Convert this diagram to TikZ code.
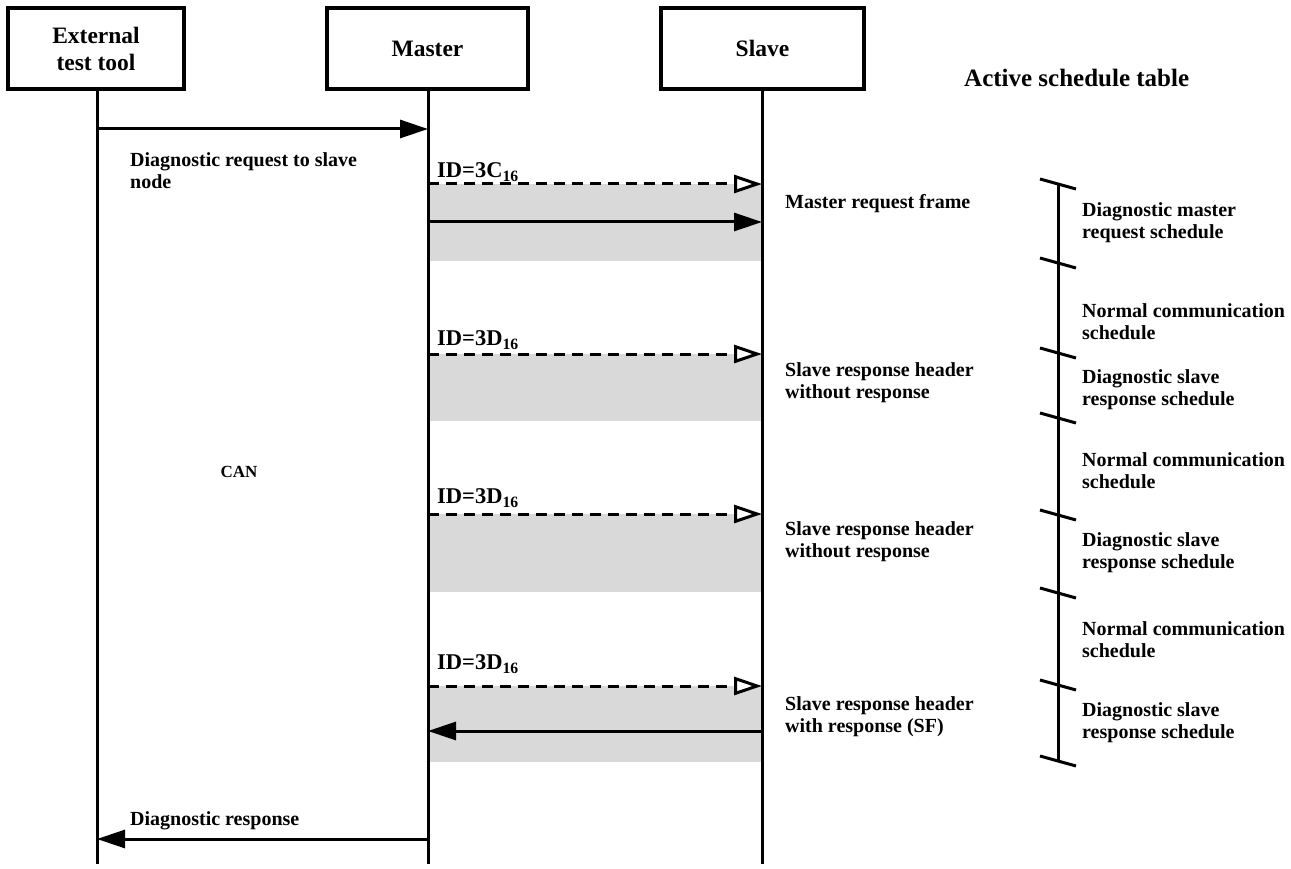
\documentclass[tikz,border=0pt]{standalone}
\usepackage{fontspec}
\setmainfont{Liberation Serif}
\usetikzlibrary{arrows.meta}
\definecolor{bandgray}{HTML}{D9D9D9}
\begin{document}
\begin{tikzpicture}[x=1pt,y=-1pt,
  txt/.style={font=\bfseries\fontsize{20}{22}\selectfont, inner sep=0pt, align=left},
  idlbl/.style={font=\bfseries\fontsize{22.5}{24}\selectfont, inner sep=0pt, anchor=west},
  actor/.style={draw, line width=3.2pt, minimum height=81pt, inner sep=0pt,
    font=\bfseries\fontsize{23.5}{27}\selectfont, align=center},
  life/.style={line width=3pt},
  msg/.style={line width=3pt, -{Triangle[length=28pt,width=18pt]}},
  hdr/.style={line width=3pt, dash pattern=on 11pt off 7pt,
    -{Triangle[open,length=28pt,width=18pt,fill=white,line width=3pt]}},
  tick/.style={line width=3pt}]
\useasboundingbox (0,0) rectangle (1291,869);

% lifeline boxes
\node[actor, minimum width=176pt] (ext) at (96,48.5) {External\\test tool};
\node[actor, minimum width=201pt] (mst) at (427.5,48.5) {Master};
\node[actor, minimum width=203pt] (slv) at (762.5,48.5) {Slave};

% shaded frame slots
\fill[bandgray] (428,184) rectangle (762,261);
\fill[bandgray] (428,354) rectangle (762,421);
\fill[bandgray] (428,514) rectangle (762,592);
\fill[bandgray] (428,686) rectangle (762,762);

% lifelines
\coordinate (extEnd) at (97,864);
\coordinate (mstEnd) at (428,864);
\coordinate (slvEnd) at (762,864);
\draw[life] (ext.south -| extEnd) -- (extEnd);
\draw[life] (mst.south -| mstEnd) -- (mstEnd);
\draw[life] (slv.south -| slvEnd) -- (slvEnd);

% message anchor points
\foreach \y in {129,839}{
  \coordinate (e\y) at (97,\y);
  \coordinate (m\y) at (428,\y);}
\foreach \y in {184,222,354,514,686,731}{
  \coordinate (m\y) at (428,\y);
  \coordinate (s\y) at (762,\y);}

% CAN diagnostic request / response
\draw[msg] (e129) -- (m129);
\node[txt, anchor=west] (lreq) at (130,171) {Diagnostic request to slave\\node};
\draw[msg] (m839) -- (e839);
\node[txt, anchor=west] (lrsp) at (130,821) {Diagnostic response};
\node[txt, font=\bfseries\fontsize{17}{20}\selectfont] (can) at (239,472) {CAN};

% LIN frames
\draw[hdr] (m184) -- (s184);
\node[idlbl] (id1) at (437,172) {ID=3C\textsubscript{16}};
\draw[msg] (m222) -- (s222);
\node[txt, anchor=west] (f1) at (785,204) {Master request frame};

\draw[hdr] (m354) -- (s354);
\node[idlbl] (id2) at (437,340) {ID=3D\textsubscript{16}};
\node[txt, anchor=west] (f2) at (785,383) {Slave response header\\without response};

\draw[hdr] (m514) -- (s514);
\node[idlbl] (id3) at (437,498) {ID=3D\textsubscript{16}};
\node[txt, anchor=west] (f3) at (785,542) {Slave response header\\without response};

\draw[hdr] (m686) -- (s686);
\node[idlbl] (id4) at (437,664) {ID=3D\textsubscript{16}};
\draw[msg] (s731) -- (m731);
\node[txt, anchor=west] (f4) at (785,717) {Slave response header\\with response (SF)};

% schedule table time axis
\node[txt, anchor=west, font=\bfseries\fontsize{25}{28}\selectfont] (ast) at (964,78) {Active schedule table};
\coordinate (axTop) at (1058,184);
\coordinate (axBot) at (1058,761);
\draw[tick] (axTop) -- (axBot);
\foreach \y in {184,263,353,418,515,593,685,761}
  \draw[tick] (1040,\y-5) -- (1076,\y+5);

\node[txt, anchor=west] at (1082,223) {Diagnostic master\\request schedule};
\node[txt, anchor=west] at (1082,322) {Normal communication\\schedule};
\node[txt, anchor=west] at (1082,390) {Diagnostic slave\\response schedule};
\node[txt, anchor=west] at (1082,471) {Normal communication\\schedule};
\node[txt, anchor=west] at (1082,553) {Diagnostic slave\\response schedule};
\node[txt, anchor=west] at (1082,640) {Normal communication\\schedule};
\node[txt, anchor=west] at (1082,723) {Diagnostic slave\\response schedule};
\end{tikzpicture}
\end{document}
